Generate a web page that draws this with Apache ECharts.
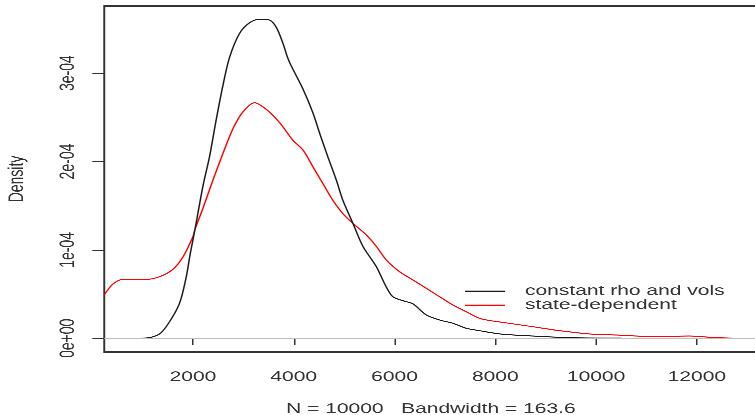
<!DOCTYPE html>
<html>
<head>
<meta charset="utf-8">
<title>Density</title>
<script src="https://cdn.jsdelivr.net/npm/echarts@6/dist/echarts.min.js"></script>
<style>
    html, body { margin: 0; padding: 0; background: #fff; overflow: hidden; }
    /* the original plot is stretched 1.5x horizontally, so draw narrow and stretch */
    #chart {
        position: absolute; left: 0; top: 0;
        width: 503.333px; height: 415px;
        transform: scaleX(1.5); transform-origin: 0 0;
    }
</style>
</head>
<body>
<div id="chart"></div>
<script>
// x positions and density values
const constX = [710, 1075, 1339, 1538, 1736, 1869, 1944, 2040, 2198, 2331,
    2464, 2595, 2728, 2926, 3124, 3322, 3520, 3652, 3784, 3903,
    4183, 4381, 4514, 4679, 4845, 4976, 5175, 5373, 5639, 5837,
    5968, 6167, 6365, 6631, 6895, 7159, 7425, 7688, 8101, 8746,
    9540, 10500, 11500, 12782];
const constY = [0, 0.003e-4, 0.05e-4, 0.19e-4, 0.40e-4, 0.70e-4, 0.95e-4, 1.23e-4, 1.72e-4, 2.06e-4,
    2.48e-4, 2.86e-4, 3.18e-4, 3.45e-4, 3.57e-4, 3.61e-4, 3.60e-4, 3.52e-4, 3.34e-4, 3.14e-4,
    2.82e-4, 2.55e-4, 2.32e-4, 2.05e-4, 1.79e-4, 1.56e-4, 1.30e-4, 1.04e-4, 0.81e-4, 0.58e-4,
    0.47e-4, 0.425e-4, 0.39e-4, 0.264e-4, 0.207e-4, 0.17e-4, 0.113e-4, 0.086e-4, 0.049e-4, 0.026e-4,
    0.006e-4, 0.002e-4, 0.001e-4, 0];

const stateX = [240, 413, 611, 850, 1075, 1339, 1603, 1802, 2000, 2040,
    2198, 2397, 2595, 2793, 2991, 3223, 3455, 3719, 3984, 4183,
    4381, 4579, 4778, 4976, 5175, 5440, 5639, 5837, 6101, 6365,
    6631, 6895, 7159, 7425, 7688, 7903, 8151, 8746, 9276, 9871,
    10401, 11194, 11855, 12385, 13044, 13250];
const stateY = [0.49e-4, 0.614e-4, 0.667e-4, 0.667e-4, 0.667e-4, 0.697e-4, 0.78e-4, 0.92e-4, 1.15e-4, 1.23e-4,
    1.47e-4, 1.79e-4, 2.09e-4, 2.37e-4, 2.56e-4, 2.665e-4, 2.59e-4, 2.44e-4, 2.24e-4, 2.13e-4,
    1.94e-4, 1.75e-4, 1.56e-4, 1.41e-4, 1.30e-4, 1.17e-4, 1.04e-4, 0.886e-4, 0.753e-4, 0.66e-4,
    0.566e-4, 0.47e-4, 0.377e-4, 0.30e-4, 0.226e-4, 0.20e-4, 0.18e-4, 0.131e-4, 0.086e-4, 0.049e-4,
    0.037e-4, 0.018e-4, 0.026e-4, 0.007e-4, 0, 0];

const seriesNames = ['constant rho and vols', 'state-dependent'];
const xTicks = [2000, 4000, 6000, 8000, 10000, 12000];
const yTicks = [0, 1e-4, 2e-4, 3e-4];
const yTickLabels = ['0e+00', '1e-04', '2e-04', '3e-04'];
const xTitle = 'N = 10000   Bandwidth = 163.6';
const yTitle = 'Density';

const FONT = 'Liberation Sans';
const TEXT_COLOR = '#333';

function pairs(xs, ys) {
    return xs.map((x, i) => [x, ys[i]]);
}

const chart = echarts.init(document.getElementById('chart'), null, { renderer: 'canvas', devicePixelRatio: 3 });

const option = {
    animation: false,
    backgroundColor: '#fff',
    grid: {
        left: 69.5, right: -2, top: 6, bottom: 63,
        containLabel: false,
        outerBoundsMode: 'none',
        show: true, borderColor: '#333', borderWidth: 1.3, backgroundColor: 'transparent'
    },
    legend: {
        orient: 'vertical',
        left: 310, top: 284.2,
        padding: 0,
        itemWidth: 26.7, itemHeight: 1.3, itemGap: 0,
        selectedMode: false,
        data: seriesNames.map(name => ({ name, icon: 'rect' })),
        textStyle: { fontFamily: FONT, fontSize: 14, color: TEXT_COLOR, padding: [0, 0, 0, 8.3] }
    },
    xAxis: {
        type: 'value',
        min: 240, max: 13203,
        axisLine: { show: false },
        splitLine: { show: false },
        axisTick: { customValues: xTicks, length: 7, lineStyle: { color: '#333', width: 1 } },
        axisLabel: {
            customValues: xTicks, margin: 18, fontFamily: FONT, fontSize: 14, color: TEXT_COLOR,
            formatter: value => String(value)
        },
        name: xTitle,
        nameLocation: 'middle',
        nameGap: 50,
        nameTextStyle: { fontFamily: FONT, fontSize: 14, color: TEXT_COLOR }
    },
    yAxis: {
        type: 'value',
        min: -0.155e-4, max: 3.759e-4,
        axisLine: { show: false },
        splitLine: { show: false },
        axisTick: { customValues: yTicks, length: 8, lineStyle: { color: '#333', width: 1 } },
        axisLabel: {
            customValues: yTicks, rotate: 90, margin: 17,
            fontFamily: FONT, fontSize: 14, color: TEXT_COLOR,
            formatter: value => {
                let best = 0;
                yTicks.forEach((t, i) => { if (Math.abs(t - value) < Math.abs(yTicks[best] - value)) best = i; });
                return yTickLabels[best];
            }
        },
        name: yTitle,
        nameLocation: 'middle',
        nameGap: 51,
        nameRotate: 90,
        nameTextStyle: { fontFamily: FONT, fontSize: 14, color: TEXT_COLOR }
    },
    series: [
        {
            // grey zero line under the curves
            name: 'zero',
            type: 'line',
            data: [],
            z: 1,
            markLine: {
                silent: true,
                symbol: 'none',
                label: { show: false },
                lineStyle: { color: '#bebebe', width: 1, type: 'solid' },
                data: [{ yAxis: 0 }]
            }
        },
        {
            name: seriesNames[0],
            type: 'line',
            data: pairs(constX, constY),
            showSymbol: false,
            smooth: 0.3,
            z: 3,
            itemStyle: { color: '#1a1a1a' },
            lineStyle: { color: '#1a1a1a', width: 1 }
        },
        {
            name: seriesNames[1],
            type: 'line',
            data: pairs(stateX, stateY),
            showSymbol: false,
            smooth: 0.3,
            z: 2,
            itemStyle: { color: '#ff0000' },
            lineStyle: { color: '#ff0000', width: 1 }
        }
    ]
};

chart.setOption(option);
</script>
</body>
</html>
